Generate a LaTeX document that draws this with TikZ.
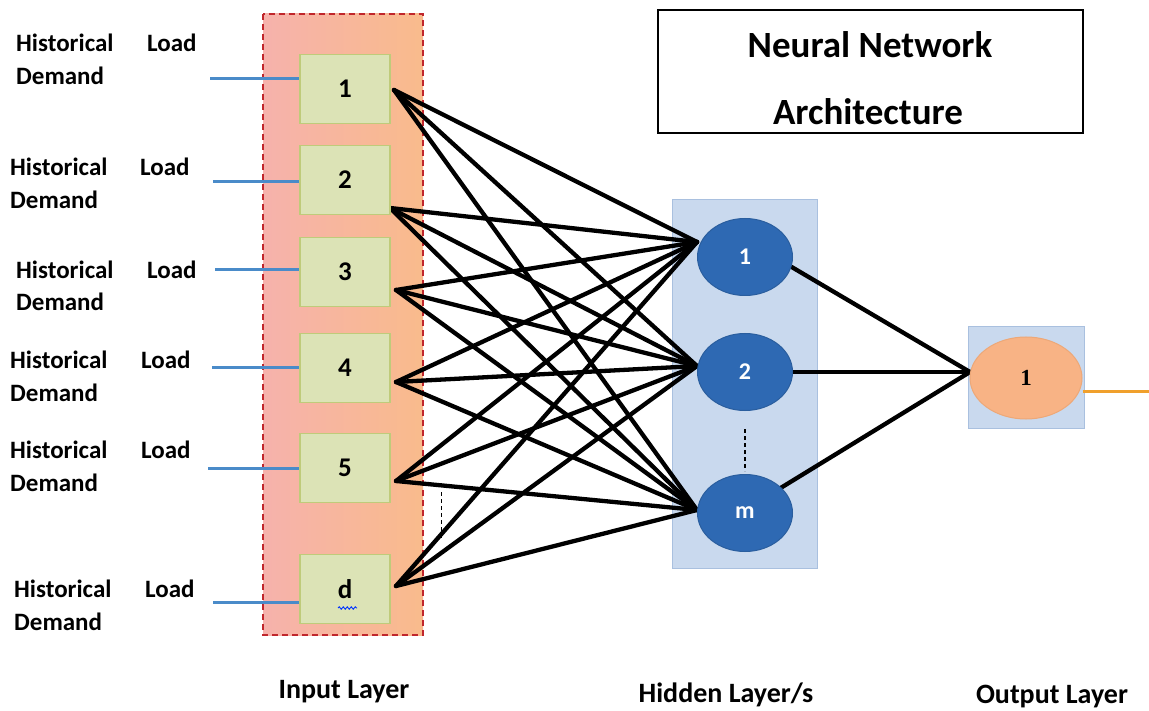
\documentclass[tikz,border=0pt]{standalone}
\usepackage{fontspec}
\setmainfont{Carlito}
\newfontfamily\numserif{Liberation Serif}
\usetikzlibrary{shapes.geometric,decorations.pathmorphing}
\pgfdeclarelayer{bg}
\pgfdeclarelayer{edges}
\pgfsetlayers{bg,edges,main}
\definecolor{inred}{HTML}{C0262C}
\definecolor{inpink}{HTML}{F6B2AC}
\definecolor{inorange}{HTML}{F9BB8C}
\definecolor{boxgreen}{HTML}{DCE3B6}
\definecolor{boxedge}{HTML}{BFCB7A}
\definecolor{lineblue}{HTML}{4A8BC9}
\definecolor{hidbg}{HTML}{C9D9EE}
\definecolor{hidedge}{HTML}{A9C0DF}
\definecolor{nodeblue}{HTML}{2E69B3}
\definecolor{nodeedge}{HTML}{2A5E9E}
\definecolor{outfill}{HTML}{F8B385}
\definecolor{outedge}{HTML}{EDA878}
\definecolor{outline}{HTML}{F0A02C}
\tikzset{
  lbl/.style={anchor=west,font=\fontsize{25}{25}\selectfont\bfseries,inner sep=0pt},
  inbox/.style={draw=boxedge,fill=boxgreen,line width=1.2pt,minimum width=90pt,minimum height=69pt,inner sep=0pt,font=\fontsize{27}{27}\selectfont\bfseries},
  feed/.style={draw=lineblue,line width=3pt},
  conn/.style={draw=black,line width=4.3pt,line cap=round},
  hid/.style={ellipse,draw=nodeedge,fill=nodeblue,line width=1pt,minimum width=95pt,minimum height=77pt,inner sep=0pt,text=white,font=\fontsize{24}{24}\selectfont\bfseries},
  layerlbl/.style={font=\fontsize{28}{28}\selectfont\bfseries,inner sep=0pt}
}
\begin{document}
\begin{tikzpicture}[x=1pt,y=-1pt]
\useasboundingbox (0,0) rectangle (1149,711);

% background panels
\begin{pgfonlayer}{bg}
\fill[white] (0,0) rectangle (1149,711);
\shade[left color=inpink,right color=inorange] (263,14) rectangle (423,635);
\draw[inred,dashed,line width=1.3pt,dash pattern=on 6pt off 4pt] (263,14) rectangle (423,635);
\fill[hidbg] (672,200) rectangle (817,568);
\draw[hidedge,line width=1pt] (672,200) rectangle (817,568);
\fill[hidbg] (968,327) rectangle (1084,428);
\draw[hidedge,line width=1pt] (968,327) rectangle (1084,428);
\end{pgfonlayer}

% title
\node[draw=black,line width=1.4pt,minimum width=425pt,minimum height=123pt,inner sep=0pt] (title) at (870.5,71.5) {};
\node[font=\fontsize{37}{37}\selectfont\bfseries] (t1) at (870,45) {Neural Network};
\node[font=\fontsize{37}{37}\selectfont\bfseries] (t2) at (868,112) {Architecture};

% input boxes
\node[inbox] (i1) at (345,89) {1};
\node[inbox] (i2) at (345,180) {2};
\node[inbox] (i3) at (345,272) {3};
\node[inbox] (i4) at (345,368) {4};
\node[inbox] (i5) at (345,468) {5};
\node[inbox] (i6) at (345,589) {d};
\draw[blue!80!cyan,line width=0.9pt,decorate,decoration={snake,amplitude=1.2pt,segment length=4pt}] (338,608) -- (357,608);

% input labels
\node[lbl] (h1) at (16,43) {Historical};  \node[lbl] (l1) at (147,43) {Load};  \node[lbl] (d1) at (16,76) {Demand};
\node[lbl] (h2) at (10,167) {Historical}; \node[lbl] (l2) at (140,167) {Load}; \node[lbl] (d2) at (10,200) {Demand};
\node[lbl] (h3) at (16,270) {Historical}; \node[lbl] (l3) at (147,270) {Load}; \node[lbl] (d3) at (16,302) {Demand};
\node[lbl] (h4) at (10,360) {Historical}; \node[lbl] (l4) at (141,360) {Load}; \node[lbl] (d4) at (10,393) {Demand};
\node[lbl] (h5) at (10,450) {Historical}; \node[lbl] (l5) at (141,450) {Load}; \node[lbl] (d5) at (10,483) {Demand};
\node[lbl] (h6) at (14,589) {Historical}; \node[lbl] (l6) at (145,589) {Load}; \node[lbl] (d6) at (14,622) {Demand};

% feed lines
\coordinate (f1) at (210,79);
\coordinate (f2) at (213,182);
\coordinate (f3) at (215,270);
\coordinate (f4) at (212,368);
\coordinate (f5) at (208,468);
\coordinate (f6) at (213,602);
\begin{pgfonlayer}{edges}
\draw[feed] (f1) -- (f1 -| i1.west);
\draw[feed] (f2) -- (f2 -| i2.west);
\draw[feed] (f3) -- (f3 -| i3.west);
\draw[feed] (f4) -- (f4 -| i4.west);
\draw[feed] (f5) -- (f5 -| i5.west);
\draw[feed] (f6) -- (f6 -| i6.west);
\end{pgfonlayer}

% hidden nodes
\node[hid] (n1) at (745,257) {1};
\node[hid] (n2) at (745,372) {2};
\node[hid] (nm) at (745,513) {m};
\draw[black,line width=1.2pt,dashed,dash pattern=on 4pt off 3pt] (n2.south) ++(0,18) -- ++(0,42);

% output
\node[ellipse,fill=outfill,draw=outedge,line width=1pt,minimum width=112pt,minimum height=82pt,inner sep=0pt,font=\numserif\fontsize{23}{23}\selectfont\bfseries] (o1) at (1026,378) {1};
\coordinate (oend) at (1149,391);

% connection anchor points
\coordinate (s1) at (394,90);
\coordinate (s2) at (390,208);
\coordinate (s3) at (396,290);
\coordinate (s4) at (396,382);
\coordinate (s5) at (396,481);
\coordinate (s6) at (396,586);
\coordinate (e1) at (697,242);
\coordinate (e2) at (697,366);
\coordinate (e3) at (697,510);
\coordinate (oin) at (970,372);

\begin{pgfonlayer}{edges}
\foreach \s in {s1,s2,s3,s4,s5,s6}{
  \foreach \e in {e1,e2,e3}{
    \draw[conn] (\s) -- (\e);
  }
}
\draw[conn] (n1.-12) -- (oin);
\draw[conn] (n2.east) -- (oin);
\draw[conn] (nm.35) -- (oin);
\draw[outline,line width=3pt] (o1.east |- oend) -- (oend);
\end{pgfonlayer}

% dotted ellipsis between inputs
\draw[black,line width=1pt,dashed,dash pattern=on 4pt off 3pt] (441,492) -- (441,540);

% layer labels
\node[layerlbl] (L1) at (344,692) {Input Layer};
\node[layerlbl] (L2) at (726,695) {Hidden Layer/s};
\node[layerlbl] (L3) at (1052,697) {Output Layer};
\end{tikzpicture}
\end{document}
